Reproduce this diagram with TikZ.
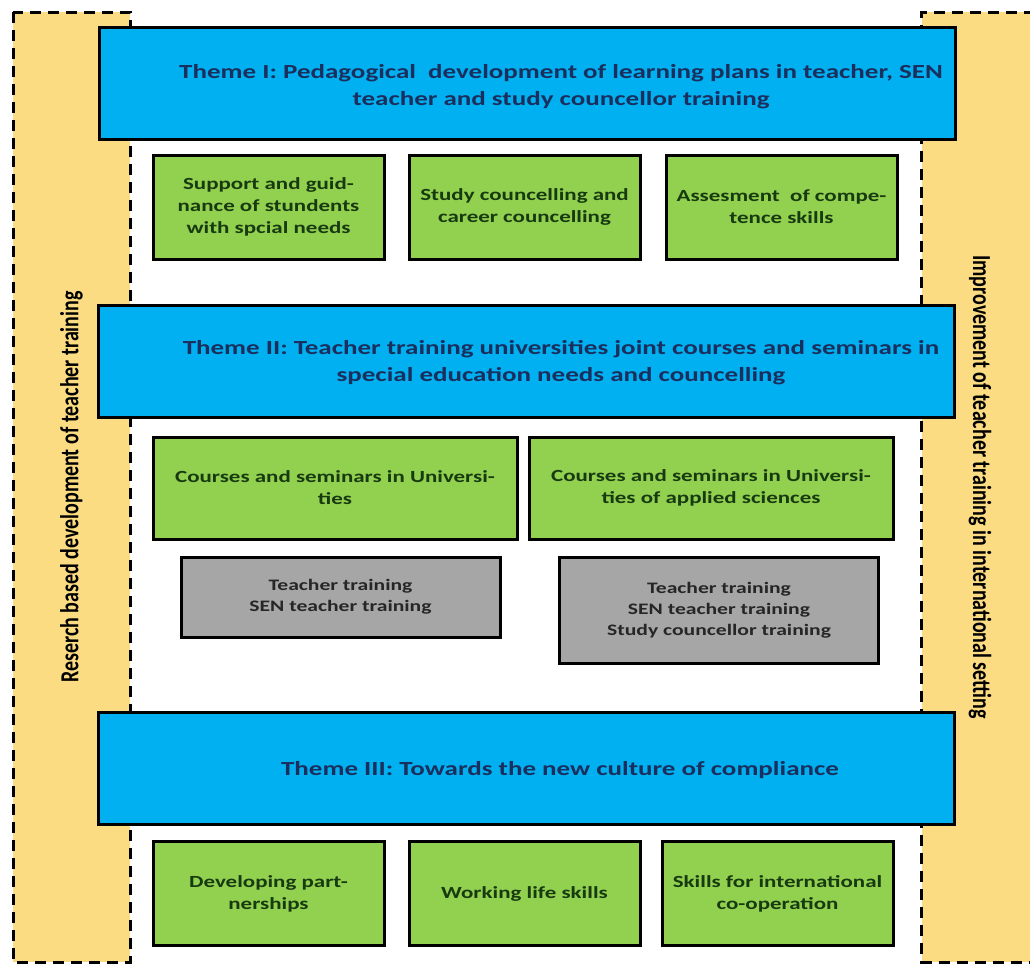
\documentclass[tikz,border=0pt]{standalone}
\usepackage{fontspec}
\setmainfont{Carlito}
\newfontfamily\widefont[FakeStretch=1.35]{Carlito}
\definecolor{barfill}{HTML}{FCDC82}
\definecolor{themefill}{HTML}{00B0F0}
\definecolor{topicfill}{HTML}{92D050}
\definecolor{groupfill}{HTML}{A6A6A6}
\definecolor{themeink}{HTML}{1B2F5E}
\definecolor{topicink}{HTML}{183A10}
\newcommand{\tallside}[1]{\scalebox{1}[1.3]{#1}}
\begin{document}
\begin{tikzpicture}[x=1pt,y=-1pt,
	bar/.style={draw,fill=barfill,line width=3pt,dash pattern=on 11pt off 7pt,
	minimum width=950pt,minimum height=117pt,
	font=\fontsize{20}{24}\selectfont\bfseries},
	theme/.style={draw,line width=3pt,fill=themefill,minimum width=856pt,minimum height=112pt},
	themetext/.style={align=center,text=themeink,font=\widefont\fontsize{20}{27}\selectfont\bfseries},
	topic/.style={draw,line width=3pt,fill=topicfill,minimum width=231pt,minimum height=104pt,
	align=center,text=topicink,font=\widefont\fontsize{17}{22}\selectfont\bfseries},
	group/.style={draw,line width=3pt,fill=groupfill,minimum width=319pt,
	align=center,text=black!85,font=\widefont\fontsize{16}{21}\selectfont\bfseries}]
\clip (0,0) rectangle (1030,964);
\node[bar,rotate=90] (left) at (71.5,487) {\tallside{Reserch based development of teacher training}};
\node[bar,rotate=-90] (right) at (980,487) {\tallside{Improvement of teacher training in international setting}};
\node[theme] (th1) at (527,83.5) {};
\node[themetext] (th1t) at (561,87) {Theme I: Pedagogical\ \ development of learning plans in teacher, SEN\\teacher and study councellor training};
\node[topic] (sup) at (268.5,207) {Support and guid-\\nance of stundents\\with spcial needs};
\node[topic] (car) at (524.5,207) {Study councelling and\\career councelling};
\node[topic] (ass) at (781.5,207) {Assesment\ \ of compe-\\tence skills};
\node[theme] (th2) at (526,361) {};
\node[themetext] (th2t) at (561,363) {Theme II: Teacher training universities joint courses and seminars in\\special education needs and councelling};
\node[topic,minimum width=364pt,minimum height=102pt] (uni) at (335,488) {Courses and seminars in Universi-\\ties};
\node[topic,minimum width=364pt,minimum height=102pt] (uas) at (711,488) {Courses and seminars in Universi-\\ties of applied sciences};
\node[group,minimum height=80pt] (tt1) at (340.5,597) {Teacher training\\SEN teacher training};
\node[group,minimum height=106pt] (tt2) at (719,610) {Teacher training\\SEN teacher training\\Study councellor training};
\node[theme] (th3) at (526,768.5) {};
\node[themetext] (th3t) at (560,770) {Theme III: Towards the new culture of compliance};
\node[topic] (par) at (268.5,893.5) {Developing part-\\nerships};
\node[topic] (wor) at (524.5,893.5) {Working life skills};
\node[topic] (int) at (777.5,893.5) {Skills for international\\co-operation};
\end{tikzpicture}
\end{document}
